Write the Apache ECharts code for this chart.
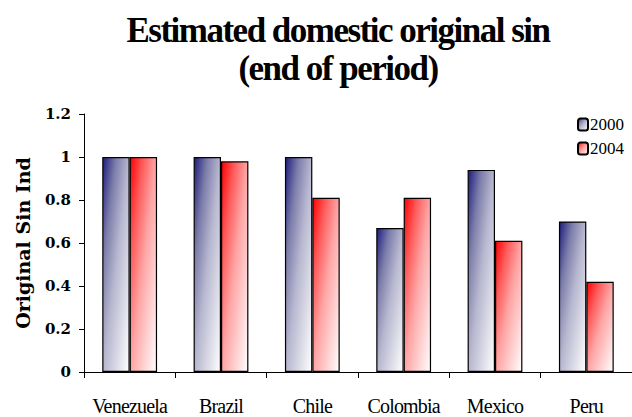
<!DOCTYPE html>
<html>
<head>
    <meta charset="UTF-8">
    <title>original sin</title>
    <script src="https://cdn.jsdelivr.net/npm/echarts@6/dist/echarts.min.js"></script>
    <style>
        *{margin:0;padding:0}
        html,body{width:100%;height:100%;background:#fff}
        #main{width:632px;height:417px}
        /* 标题和类目文字压缩字距 */
        #main text[style*="35px"]{letter-spacing:-1.5px}
        #main text[style*="20px"]{letter-spacing:-0.8px}
    </style>
</head>
<body>
    <div id="main"></div>
    <script type="text/javascript">
        var countries = ['Venezuela', 'Brazil', 'Chile', 'Colombia', 'Mexico', 'Peru'];
        var values2000 = [1.00, 1.00, 1.00, 0.67, 0.94, 0.70];
        var values2004 = [1.00, 0.98, 0.81, 0.81, 0.61, 0.42];
        var seriesNames = ['2000', '2004'];
        var yTicks = [0, 0.2, 0.4, 0.6, 0.8, 1, 1.2];

        var serif = '"Liberation Serif", "DejaVu Serif", serif';
        var wideSerif = '"DejaVu Serif", serif';

        // svg 渲染器里渐变按柱子自身比例（objectBoundingBox），左上深 -> 右下白
        var blueStops = [
            {offset: 0, color: '#1c1c7e'},
            {offset: 0.25, color: '#7c7caa'},
            {offset: 0.5, color: '#b6b6cf'},
            {offset: 1, color: '#ffffff'}
        ];
        var redStops = [
            {offset: 0, color: '#ff0000'},
            {offset: 0.25, color: '#ff5c5c'},
            {offset: 0.5, color: '#ffa4a4'},
            {offset: 1, color: '#ffffff'}
        ];
        function grad(stops) {
            return new echarts.graphic.LinearGradient(0, 0, 1, 1, stops);
        }

        var myChart = echarts.init(document.getElementById('main'), null, {renderer: 'svg'});
        var option = {
            animation: false,
            backgroundColor: '#fff',
            title: {
                text: 'Estimated domestic original sin\n(end of period)',
                left: 333,
                textAlign: 'center',
                top: 6,
                textStyle: {
                    fontFamily: serif,
                    fontWeight: 'bold',
                    fontSize: 35,
                    lineHeight: 38,
                    color: '#000'
                }
            },
            legend: {
                orient: 'vertical',
                left: 572,
                top: 111,
                itemWidth: 10,
                itemHeight: 12,
                itemGap: 7,
                textStyle: {fontFamily: serif, fontSize: 17, color: '#000', padding: [0, 0, 0, -3]},
                data: [
                    {name: seriesNames[0], itemStyle: {color: grad(blueStops)}},
                    {name: seriesNames[1], itemStyle: {color: grad(redStops)}}
                ]
            },
            grid: {left: 84, right: 0, top: 114, bottom: 45},
            xAxis: {
                type: 'category',
                data: countries,
                axisLine: {lineStyle: {color: '#000'}},
                axisTick: {show: true, length: 6, lineStyle: {color: '#000'}},
                axisLabel: {interval: 0, fontFamily: serif, fontSize: 20, color: '#000', margin: 24}
            },
            yAxis: {
                type: 'value',
                min: yTicks[0],
                max: yTicks[yTicks.length - 1],
                interval: 0.2,
                name: 'Original Sin Index',
                nameLocation: 'middle',
                nameGap: 52,
                nameTruncate: {maxWidth: 176, ellipsis: ''},//原图轴名被截断
                nameTextStyle: {fontFamily: wideSerif, fontWeight: 'bold', fontSize: 19, color: '#000'},
                axisLine: {show: true, lineStyle: {color: '#000'}},
                axisTick: {show: true, length: 5, lineStyle: {color: '#000'}},
                splitLine: {show: false},
                axisLabel: {
                    fontFamily: wideSerif, fontWeight: 'bold', fontSize: 15, color: '#000', margin: 13,
                    formatter: function (v) { return Math.round(v * 10) / 10 + ''; }
                }
            },
            series: [
                {
                    name: seriesNames[0],
                    type: 'bar',
                    data: values2000,
                    barGap: '0%',
                    barCategoryGap: '40%',
                    itemStyle: {color: grad(blueStops), borderColor: '#000', borderWidth: 1.2}
                },
                {
                    name: seriesNames[1],
                    type: 'bar',
                    data: values2004,
                    itemStyle: {color: grad(redStops), borderColor: '#000', borderWidth: 1.2}
                }
            ]
        };
        myChart.setOption(option);
    </script>
</body>
</html>
